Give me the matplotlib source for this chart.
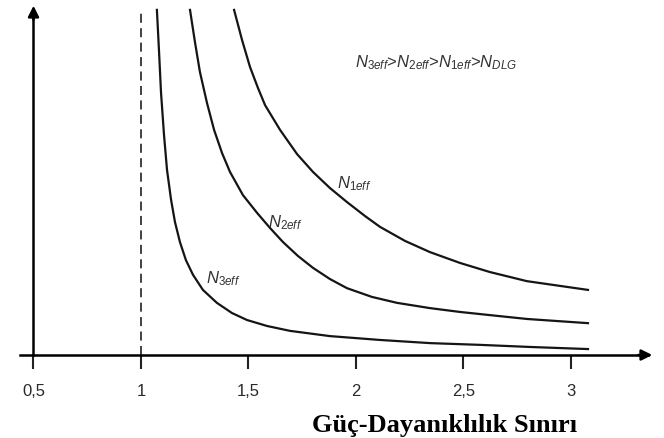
import matplotlib
matplotlib.use('Agg')
import matplotlib.pyplot as plt

plt.rcParams['font.family'] = ['Liberation Sans', 'DejaVu Sans']
plt.rcParams['mathtext.fontset'] = 'custom'
plt.rcParams['mathtext.it'] = 'Liberation Sans:italic'
plt.rcParams['mathtext.rm'] = 'Liberation Sans'

# okunan egriler (x: oran, y: keyfi birim)
n3_x = [1.074, 1.084, 1.093, 1.107, 1.121, 1.140, 1.158, 1.181, 1.209, 1.242, 1.288,
        1.353, 1.423, 1.493, 1.586, 1.693, 1.879, 2.112, 2.344, 2.577, 2.809, 3.079]
n3_y = [9.86, 8.66, 7.51, 6.29, 5.29, 4.43, 3.80, 3.23, 2.71, 2.29, 1.86,
        1.49, 1.20, 1.00, 0.83, 0.69, 0.54, 0.43, 0.34, 0.29, 0.23, 0.17]

n2_x = [1.228, 1.251, 1.274, 1.307, 1.340, 1.377, 1.414, 1.474, 1.540, 1.600, 1.660,
        1.730, 1.800, 1.879, 1.958, 2.074, 2.191, 2.344, 2.484, 2.623, 2.795, 3.079]
n2_y = [9.86, 8.94, 8.09, 7.20, 6.43, 5.77, 5.23, 4.57, 4.06, 3.63, 3.23,
        2.83, 2.49, 2.17, 1.91, 1.66, 1.49, 1.34, 1.23, 1.14, 1.03, 0.91]

n1_x = [1.433, 1.470, 1.507, 1.544, 1.577, 1.647, 1.726, 1.800, 1.879, 1.958, 2.042,
        2.112, 2.228, 2.344, 2.484, 2.623, 2.795, 3.079]
n1_y = [9.86, 9.00, 8.23, 7.63, 7.14, 6.43, 5.74, 5.23, 4.77, 4.37, 3.97,
        3.66, 3.26, 2.94, 2.63, 2.37, 2.11, 1.86]

tick_vals = [0.5, 1, 1.5, 2, 2.5, 3]
tick_labels = ['0,5', '1', '1,5', '2', '2,5', '3']

fig = plt.figure(figsize=(6.64, 4.38), dpi=100)
ax = fig.add_axes([0, 0, 1, 1])
ax.set_xlim(0.3442, 3.4326)
ax.set_ylim(-2.371, 10.143)

line_c = '#151515'
for xs, ys in [(n3_x, n3_y), (n2_x, n2_y), (n1_x, n1_y)]:
    ax.plot(xs, ys, color=line_c, lw=1.6, solid_joinstyle='round')

# x=1 kesikli cizgi
ax.plot([1, 1], [0, 9.86], color='#333333', lw=1.3, dashes=(5, 3))

# eksenler
for s in ['top', 'right']:
    ax.spines[s].set_visible(False)
ax.spines['bottom'].set_position(('data', 0))
ax.spines['bottom'].set_bounds(0.437, 3.36)
ax.spines['bottom'].set_linewidth(1.8)
ax.spines['left'].set_position(('data', 0.5))
ax.spines['left'].set_bounds(0, 9.7)
ax.spines['left'].set_linewidth(1.8)
ax.annotate('', xy=(3.391, 0), xytext=(3.30, 0),
            arrowprops=dict(arrowstyle='-|>', color='k', lw=1.8, mutation_scale=16))
ax.annotate('', xy=(0.5, 10.06), xytext=(0.5, 9.5),
            arrowprops=dict(arrowstyle='-|>', color='k', lw=1.8, mutation_scale=16))

ax.set_yticks([])
ax.set_xticks(tick_vals)
ax.set_xticklabels(tick_labels)
ax.tick_params(axis='x', direction='out', length=10, width=1.5, pad=11,
               labelsize=12, labelcolor='#2a2a2a', color='#222222')

# egri etiketleri
lab_c = '#333333'
ax.text(1.381, 2.17, r'$N_{3eff}$', fontsize=12, color=lab_c, ha='center', va='center')
ax.text(1.670, 3.77, r'$N_{2eff}$', fontsize=12, color=lab_c, ha='center', va='center')
ax.text(1.990, 4.91, r'$N_{1eff}$', fontsize=12, color=lab_c, ha='center', va='center')
ax.text(2.372, 8.34, r'$N_{3eff}$>$N_{2eff}$>$N_{1eff}$>$N_{DLG}$', fontsize=12,
        color=lab_c, ha='center', va='center')

ax.text(2.414, -2.0, 'Güç-Dayanıklılık Sınırı', fontsize=19, fontweight='bold',
        family='Liberation Serif', ha='center', va='center', color='black')

fig.savefig('out.png', dpi=100)
